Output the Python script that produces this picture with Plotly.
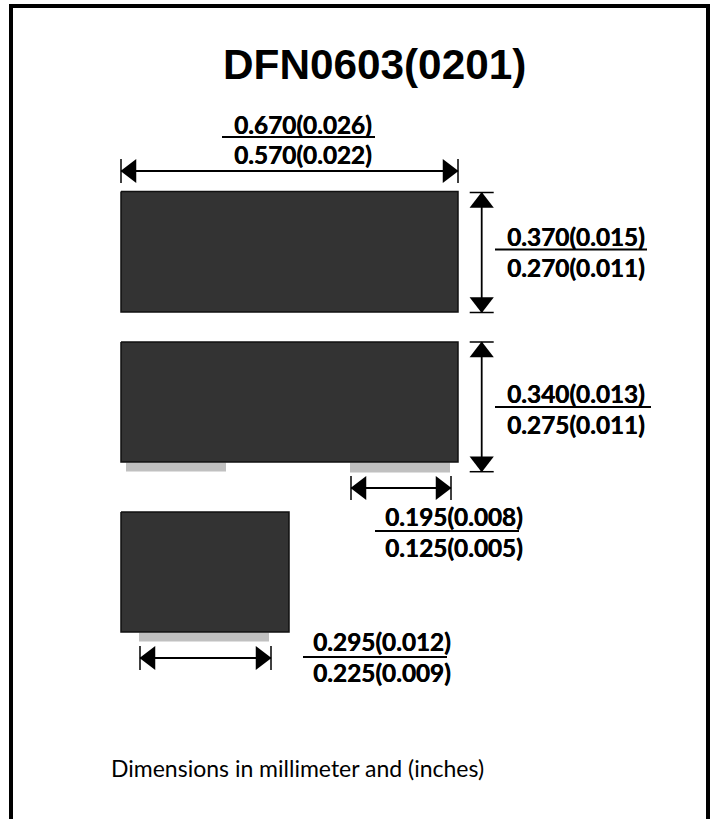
import plotly.graph_objects as go

# Diagram content, in page-pixel units
title = "DFN0603(0201)"
caption = "Dimensions in millimeter and (inches)"
upper_labels = ["0.670(0.026)", "0.370(0.015)", "0.340(0.013)", "0.195(0.008)", "0.295(0.012)"]
lower_labels = ["0.570(0.022)", "0.270(0.011)", "0.275(0.011)", "0.125(0.005)", "0.225(0.009)"]
label_x = [303, 575.5, 576, 454, 382]
upper_y = [124, 236, 393, 516, 641]
lower_y = [154, 267, 424, 547, 672]
rule_x0 = [222, 495, 495, 375, 303]
rule_x1 = [375, 647, 651, 519, 447]
rule_y = [137, 249.5, 407, 531, 657]

body_x0 = [121, 121, 121]
body_x1 = [458, 458, 289]
body_y0 = [191.5, 342, 512]
body_y1 = [312, 462, 632]
pad_x0 = [126, 350, 139]
pad_x1 = [226, 450, 269]
pad_y0 = [462.5, 462.5, 632.5]
pad_y1 = [471.5, 472.5, 641.5]

hdim_y = [171, 488, 658]
hdim_x0 = [121, 351, 140]
hdim_x1 = [458, 451, 271]
hdim_half = [12, 12, 12]
vdim_x = [481.7, 481.7]
vdim_y0 = [192.5, 342]
vdim_y1 = [312.5, 471.7]
vdim_half = [12, 12]

frame_x = [11, 11, 708, 708]
frame_y = [819, 6, 6, 819]

fig = go.Figure()

def line(xs, ys, width=2, color="#000000"):
    fig.add_trace(go.Scatter(x=xs, y=ys, mode="lines", line=dict(color=color, width=width),
                             hoverinfo="skip", showlegend=False))

def box(x0, x1, y0, y1, fill, outline=None):
    fig.add_trace(go.Scatter(x=[x0, x1, x1, x0, x0], y=[y0, y0, y1, y1, y0], mode="lines",
                             fill="toself", fillcolor=fill,
                             line=dict(color=outline or fill, width=1.5 if outline else 0),
                             hoverinfo="skip", showlegend=False))

def arrow(x, y, symbol):
    fig.add_trace(go.Scatter(x=[x], y=[y], mode="markers",
                             marker=dict(symbol=symbol, size=21, color="#000000", line=dict(width=0)),
                             hoverinfo="skip", showlegend=False))

line(frame_x, frame_y, width=4)

for i in range(3):
    box(pad_x0[i], pad_x1[i], pad_y0[i], pad_y1[i], "#c0c0c0")
for i in range(3):
    box(body_x0[i], body_x1[i], body_y0[i], body_y1[i], "#333333", "#111111")

for i in range(3):
    y, a, b, h = hdim_y[i], hdim_x0[i], hdim_x1[i], hdim_half[i]
    line([a, b], [y, y], width=1.8)
    line([a, a], [y - h, y + h], width=1.5)
    line([b, b], [y - h, y + h], width=1.5)
    arrow(a + 10, y, "triangle-left")
    arrow(b - 10, y, "triangle-right")

for i in range(2):
    x, a, b, h = vdim_x[i], vdim_y0[i], vdim_y1[i], vdim_half[i]
    line([x, x], [a, b], width=1.8)
    line([x - h, x + h], [a, a], width=1.5)
    line([x - h, x + h], [b, b], width=1.5)
    arrow(x, a + 10, "triangle-up")
    arrow(x, b - 10, "triangle-down")

for i in range(5):
    line([rule_x0[i], rule_x1[i]], [rule_y[i], rule_y[i]], width=1.8)

def label(x, y, text, size, family, xanchor="center", bold=False, shadow="none"):
    fig.add_annotation(x=x, y=y, text=f"<b>{text}</b>" if bold else text, showarrow=False,
                       xanchor=xanchor, yanchor="middle", borderpad=0,
                       font=dict(family=family, size=size, color="#000000", shadow=shadow))

label(374, 64, title, 42.3, "Liberation Sans", bold=True)
for i in range(5):
    label(label_x[i], upper_y[i], upper_labels[i], 24.3, "Lato", bold=True, shadow="0.5px 0 0 #000")
    label(label_x[i], lower_y[i], lower_labels[i], 24.3, "Lato", bold=True, shadow="0.5px 0 0 #000")
label(109.5, 768, caption, 23, "Lato", xanchor="left")

fig.update_layout(
    width=712, height=819, autosize=False,
    margin=dict(l=0, r=0, t=0, b=0),
    paper_bgcolor="#ffffff", plot_bgcolor="#ffffff",
    showlegend=False,
    xaxis=dict(range=[0, 712], visible=False, fixedrange=True),
    yaxis=dict(range=[819, 0], visible=False, fixedrange=True),
)
fig.write_html("out.html", config=dict(displayModeBar=False),
               post_script="document.body.style.margin='0';document.documentElement.style.overflow='hidden';")
